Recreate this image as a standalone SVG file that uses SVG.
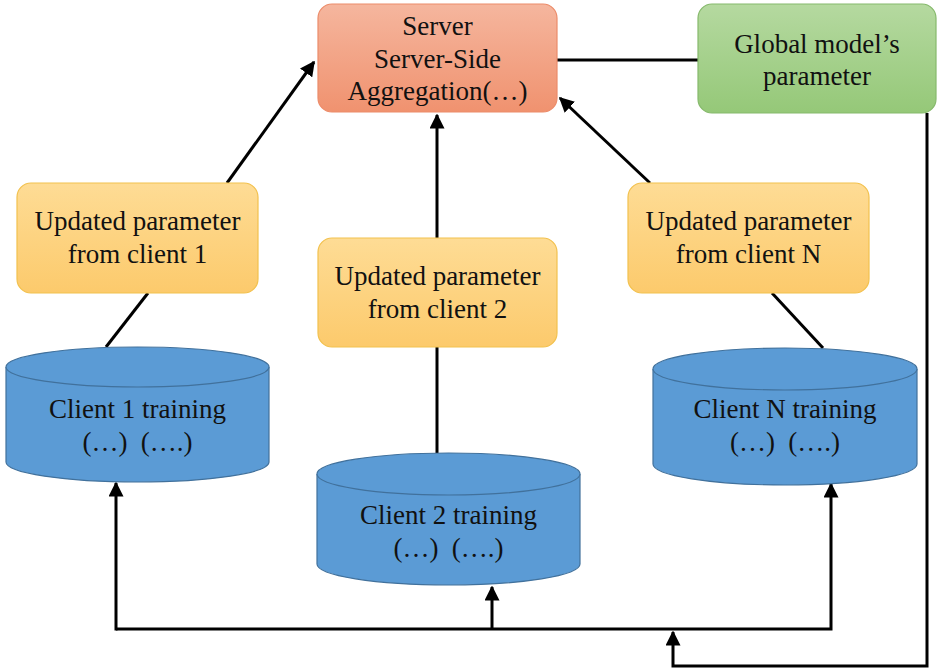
<svg xmlns="http://www.w3.org/2000/svg" width="939" height="670" viewBox="0 0 939 670">
  <style>
    .lbl { font-family: "Liberation Serif", "Times New Roman", serif; font-size: 27px; fill: #111; text-anchor: middle; }
    .conn { fill: none; stroke: #000; stroke-width: 3; stroke-linejoin: miter; }
    .yellow { fill: url(#gYellow); stroke: #f2c14e; stroke-width: 1.2; }
    .cyl { fill: #5b9bd5; stroke: #41719c; stroke-width: 1.2; }
  </style>
  <defs>
    <linearGradient id="gServer" x1="0" y1="0" x2="0" y2="1">
      <stop offset="0" stop-color="#f5b69e"/>
      <stop offset="1" stop-color="#f0926f"/>
    </linearGradient>
    <linearGradient id="gGreen" x1="0" y1="0" x2="0" y2="1">
      <stop offset="0" stop-color="#b5d9a0"/>
      <stop offset="1" stop-color="#95c878"/>
    </linearGradient>
    <linearGradient id="gYellow" x1="0" y1="0" x2="0" y2="1">
      <stop offset="0" stop-color="#fedc95"/>
      <stop offset="1" stop-color="#fcca6c"/>
    </linearGradient>
    <marker id="arrow" viewBox="0 0 10 10" refX="9" refY="5" markerWidth="5" markerHeight="5" orient="auto" markerUnits="strokeWidth">
      <path d="M0,0 L10,5 L0,10 z" fill="#000"/>
    </marker>
  </defs>

  <!-- connectors -->
  <g id="connectors">
    <line class="conn" x1="557" y1="60" x2="698" y2="60"/>
    <line class="conn" x1="227" y1="183" x2="314" y2="62" marker-end="url(#arrow)"/>
    <line class="conn" x1="437" y1="238" x2="437" y2="115" marker-end="url(#arrow)"/>
    <line class="conn" x1="650" y1="183" x2="560" y2="98" marker-end="url(#arrow)"/>
    <line class="conn" x1="106" y1="347" x2="148" y2="293"/>
    <line class="conn" x1="437" y1="453" x2="437" y2="347"/>
    <line class="conn" x1="823" y1="348" x2="772" y2="293"/>
    <polyline class="conn" points="116,629 831,629 831,484" marker-end="url(#arrow)"/>
    <line class="conn" x1="116" y1="630.5" x2="116" y2="483" marker-end="url(#arrow)"/>
    <line class="conn" x1="492" y1="629" x2="492" y2="587" marker-end="url(#arrow)"/>
    <polyline class="conn" points="927,113 927,666 673,666 673,632" marker-end="url(#arrow)"/>
  </g>

  <g id="server">
    <rect x="318" y="4" width="239" height="108" rx="14" fill="url(#gServer)" stroke="#ec8c6a" stroke-width="1.2"/>
    <text class="lbl" x="437.5" y="35">Server</text>
    <text class="lbl" x="437.5" y="68">Server-Side</text>
    <text class="lbl" x="437.5" y="100">Aggregation(…)</text>
  </g>

  <g id="global-params">
    <rect x="698" y="4" width="238" height="109" rx="14" fill="url(#gGreen)" stroke="#86b96c" stroke-width="1.2"/>
    <text class="lbl" x="817" y="53">Global model’s</text>
    <text class="lbl" x="817" y="85">parameter</text>
  </g>

  <g id="update-1">
    <rect class="yellow" x="17" y="183" width="241" height="110" rx="14"/>
    <text class="lbl" x="137.5" y="230">Updated parameter</text>
    <text class="lbl" x="137.5" y="263">from client 1</text>
  </g>

  <g id="update-2">
    <rect class="yellow" x="318" y="238" width="239" height="109" rx="14"/>
    <text class="lbl" x="437.5" y="285">Updated parameter</text>
    <text class="lbl" x="437.5" y="318">from client 2</text>
  </g>

  <g id="update-n">
    <rect class="yellow" x="628" y="183" width="241" height="110" rx="14"/>
    <text class="lbl" x="748.5" y="230">Updated parameter</text>
    <text class="lbl" x="748.5" y="263">from client N</text>
  </g>

  <g id="client-1">
    <path class="cyl" d="M6,367 A131.5,20 0 0 1 269,367 L269,462 A131.5,20 0 0 1 6,462 Z"/>
    <path class="cyl" d="M6,367 A131.5,20 0 0 0 269,367" fill="none"/>
    <text class="lbl" x="137.5" y="418">Client 1 training</text>
    <text class="lbl" x="137.5" y="451">(…)&#160; (….)</text>
  </g>

  <g id="client-2">
    <path class="cyl" d="M317,474 A131.5,21 0 0 1 580,474 L580,564 A131.5,21 0 0 1 317,564 Z"/>
    <path class="cyl" d="M317,474 A131.5,21 0 0 0 580,474" fill="none"/>
    <text class="lbl" x="448.5" y="524">Client 2 training</text>
    <text class="lbl" x="448.5" y="557">(…)&#160; (….)</text>
  </g>

  <g id="client-n">
    <path class="cyl" d="M653,369 A132,21 0 0 1 917,369 L917,464 A132,21 0 0 1 653,464 Z"/>
    <path class="cyl" d="M653,369 A132,21 0 0 0 917,369" fill="none"/>
    <text class="lbl" x="785" y="418">Client N training</text>
    <text class="lbl" x="785" y="451">(…)&#160; (….)</text>
  </g>
</svg>
